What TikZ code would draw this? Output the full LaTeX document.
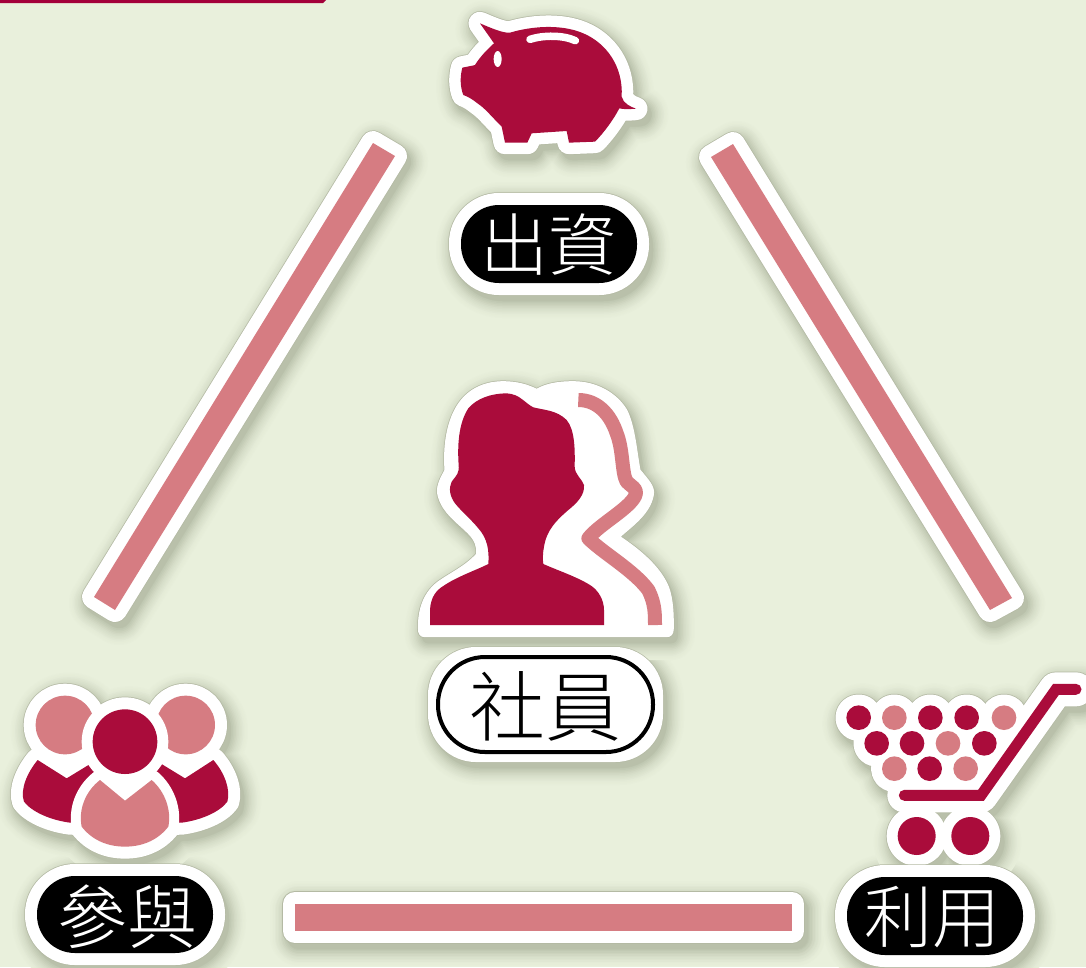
\documentclass[tikz,border=0pt]{standalone}
\usepackage{fontspec}
\newfontfamily\cjk{Noto Sans CJK TC Light}
\definecolor{bg}{HTML}{E9F0DC}
\definecolor{deep}{HTML}{AA0C3B}
\definecolor{soft}{HTML}{D67C82}
\definecolor{topred}{HTML}{A3003A}
\definecolor{shade}{HTML}{3C4628}
\definecolor{edge}{HTML}{B4BAA4}
\newcommand\stickershadow[1]{%
  \foreach \wd/\mx in {34/1,31/2,28/3,25/5,22/7,19/9,16/11,13/14,10/17,7/20,4/23,1/26,0/28}{%
    \begin{scope}[shift={(4pt,-6pt)},color=shade!\mx!bg] #1{\wd pt} \end{scope}}}
\newcommand\stickerface[1]{%
  \begin{scope}[color=edge] #1{1.5pt} \end{scope}%
  \begin{scope}[color=white] #1{0pt} \end{scope}}
\newcommand\stickerlayers[1]{\stickershadow{#1}\stickerface{#1}}
\newcommand\pillbase[6]{\path[draw,fill,rounded corners=38pt,line width=#5+#6] (#1,#2) rectangle (#3,#4);}
\newcommand\barbase[2]{\path[draw,fill,line join=round,line width=24pt+#2] #1;}
\newcommand\pigshape{(180,70) .. controls (215,85) and (250,100) .. (270,98) .. controls (330,80) and (420,70) .. (490,100) .. controls (560,130) and (610,200) .. (605,290) .. controls (610,310) and (630,320) .. (648,326) .. controls (625,328) and (610,328) .. (598,325) .. controls (580,360) and (550,400) .. (525,425) -- (447,428) -- (440,393) -- (335,400) -- (322,428) -- (255,428) -- (245,380) .. controls (215,350) and (195,325) .. (175,312) .. controls (160,300) and (145,290) .. (130,285) .. controls (120,260) and (120,230) .. (127,203) .. controls (140,200) and (155,198) .. (165,195) .. controls (180,170) and (205,145) .. (222,130) .. controls (205,105) and (190,85) .. (180,70) -- cycle}
\newcommand\pigbase[1]{\path[draw,fill,line join=round,line width=23pt+#1] \pigshape;}
\newcommand\personbase[1]{\path[draw,fill,line join=round,line width=1pt+#1] (55,745) .. controls (55,680) and (75,635) .. (115,605) .. controls (150,580) and (195,560) .. (230,522) .. controls (232,500) and (225,480) .. (205,460) .. controls (170,425) and (130,400) .. (115,350) .. controls (105,320) and (125,290) .. (135,270) .. controls (130,200) and (140,130) .. (170,80) .. controls (200,30) and (250,5) .. (310,5) .. controls (350,5) and (385,15) .. (410,28) .. controls (440,10) and (480,5) .. (520,5) .. controls (590,5) and (650,40) .. (680,90) .. controls (705,140) and (710,220) .. (720,270) .. controls (745,300) and (765,320) .. (760,345) .. controls (750,400) and (700,435) .. (660,470) .. controls (720,510) and (780,560) .. (805,620) .. controls (820,660) and (820,710) .. (820,745) .. controls (820,762) and (812,770) .. (800,770) -- (75,770) .. controls (62,770) and (55,762) .. (55,745) -- cycle;}
\newcommand\leftbody{(113,270) -- (200,325) -- (290,270) -- (290,460) -- (210,458) .. controls (150,450) and (95,425) .. (72,395) .. controls (60,360) and (80,310) .. (113,270) -- cycle}
\newcommand\rightbody{(640,270) -- (555,325) -- (465,270) -- (465,460) -- (545,458) .. controls (605,450) and (660,425) .. (682,395) .. controls (692,360) and (675,310) .. (640,270) -- cycle}
\newcommand\frontbody{(300,330) -- (375,392) -- (455,330) .. controls (495,365) and (515,420) .. (505,470) .. controls (470,515) and (420,530) .. (375,530) .. controls (330,530) and (280,515) .. (245,470) .. controls (235,420) and (255,365) .. (300,330) -- cycle}
\newcommand\groupbase[1]{%
  \tikzset{grp/.style={draw,fill,line join=round,line width=24pt+#1}}%
  \path[grp] (195,165) circle (88);
  \path[grp] (557,165) circle (88);
  \path[grp] (375,215) circle (97);
  \path[grp] \leftbody;
  \path[grp] \rightbody;
  \path[grp] \frontbody;}
\newcommand\ballsbasic[2]{\foreach \cx/\cy/\cc in {98/173/deep,205/173/soft,313/173/deep,422/173/deep,534/173/soft,152/250/deep,258/250/deep,366/250/soft,475/250/deep,205/326/soft,311/326/deep,419/326/soft}{#1}}
\newcommand\cartbase[1]{%
  \tikzset{crt/.style={draw,fill,line join=round,line width=22pt+#1}}%
  \ballsbasic{\path[crt] (\cx,\cy) circle (37);}{}%
  \path[fill,line width=0pt] (98,173) -- (534,173) -- (470,400) -- (235,400) -- cycle;
  \path[draw,line join=round,line cap=round,line width=34pt+#1] (235,406) -- (465,406) -- (690,88) -- (750,88);
  \path[crt] (272,528) circle (57);
  \path[crt] (433,528) circle (57);}
\tikzset{
  zoomframe/.style={x=.33333pt,y=-.33333pt},
  pilllabel/.style={font=\cjk\fontsize{68}{68}\selectfont,text=white,inner sep=0pt},
}
\begin{document}
\begin{tikzpicture}[x=1pt,y=-1pt]
\useasboundingbox (0,0) rectangle (1086,967);
\fill[bg] (0,0) rectangle (1086,967);
\fill[topred] (0,0) -- (326,0) -- (323,3) -- (0,3) -- cycle;
% bars
\stickerlayers{\barbase{(373,143) -- (395,156) -- (115,610) -- (94,597) -- cycle}}
\fill[soft] (373,143) -- (395,156) -- (115,610) -- (94,597) -- cycle;
\stickerlayers{\barbase{(711,157) -- (733,144) -- (1012,598) -- (990,610) -- cycle}}
\fill[soft] (711,157) -- (733,144) -- (1012,598) -- (990,610) -- cycle;
\stickerlayers{\barbase{(295,904) -- (792,904) -- (792,931) -- (295,931) -- cycle}}
\fill[soft] (295,904) -- (792,904) -- (792,931) -- (295,931) -- cycle;
% pill shadows go under the icons above them
\stickershadow{\pillbase{461}{205}{637}{283}{24pt}}
\stickershadow{\pillbase{438}{657}{653}{752}{20pt}}
\stickershadow{\pillbase{37}{876}{213}{953}{24pt}}
\stickershadow{\pillbase{847}{877}{1023}{955}{24pt}}
% pig
\begin{scope}[shift={(420,0)},zoomframe]
  \stickerlayers{\pigbase}
  \fill[deep] \pigshape;
  \draw[white,line width=7.5pt,line cap=round] (330,118) .. controls (370,105) and (430,105) .. (466,122);
  \fill[white] (233,177) ellipse (12 and 24);
\end{scope}
\stickerface{\pillbase{461}{205}{637}{283}{24pt}}
\fill[black,rounded corners=38pt] (461,205) rectangle (637,283);
\node[pilllabel] (chuzi) at (548,245) {出資};
% person
\begin{scope}[shift={(400,380)},zoomframe]
  \stickerlayers{\personbase}
  \draw[soft,line width=14pt,line join=round] (535,60) .. controls (590,60) and (630,100) .. (650,160) .. controls (670,210) and (665,280) .. (680,305) .. controls (695,320) and (710,325) .. (708,340) .. controls (700,380) and (600,430) .. (565,475) .. controls (610,520) and (700,570) .. (745,630) .. controls (765,670) and (765,700) .. (765,735);
  \fill[deep] (90,735) -- (90,690) .. controls (92,650) and (110,630) .. (130,618) .. controls (170,590) and (230,570) .. (265,552) .. controls (268,510) and (262,475) .. (235,445) .. controls (215,420) and (185,395) .. (165,370) .. controls (150,350) and (145,325) .. (155,305) .. controls (170,285) and (178,280) .. (176,255) .. controls (172,200) and (175,130) .. (205,85) .. controls (230,55) and (275,40) .. (320,40) .. controls (360,42) and (375,70) .. (400,82) .. controls (430,90) and (470,90) .. (500,120) .. controls (525,150) and (525,210) .. (524,260) .. controls (525,285) and (545,295) .. (552,315) .. controls (555,345) and (530,370) .. (505,390) .. controls (470,420) and (440,450) .. (432,500) .. controls (428,520) and (428,540) .. (430,552) .. controls (470,570) and (530,590) .. (570,615) .. controls (595,630) and (612,660) .. (612,690) -- (612,735) -- cycle;
\end{scope}
\stickerface{\pillbase{438}{657}{653}{752}{20pt}}
\draw[black,line width=4pt,rounded corners=47pt] (438,657) rectangle (653,752);
\node[pilllabel,text=black,font=\cjk\fontsize{76}{76}\selectfont] (sheyuan) at (545,706) {社員};
% group
\begin{scope}[shift={(0,670)},zoomframe]
  \stickerlayers{\groupbase}
  \fill[soft] (195,165) circle (88);
  \fill[soft] (557,165) circle (88);
  \fill[deep] \leftbody;
  \fill[deep] \rightbody;
  \fill[white] (375,215) circle (130);
  \fill[deep] (375,215) circle (97);
  \draw[white,line width=20pt,line join=round] \frontbody;
  \fill[soft] \frontbody;
\end{scope}
\stickerface{\pillbase{37}{876}{213}{953}{24pt}}
\fill[black,rounded corners=38pt] (37,876) rectangle (213,953);
\node[pilllabel,font=\cjk\fontsize{70}{70}\selectfont] (canyu) at (127,917) {參與};
% cart
\begin{scope}[shift={(826,660)},zoomframe]
  \stickerlayers{\cartbase}
  \ballsbasic{\fill[\cc] (\cx,\cy) circle (37);}{}
  \draw[deep,line width=11pt,line join=miter,line cap=round] (235,406) -- (465,406) -- (690,88) -- (750,88);
  \fill[deep] (272,528) circle (57);
  \fill[deep] (433,528) circle (57);
\end{scope}
\stickerface{\pillbase{847}{877}{1023}{955}{24pt}}
\fill[black,rounded corners=38pt] (847,877) rectangle (1023,955);
\node[pilllabel] (liyong) at (932,917) {利用};
\end{tikzpicture}
\end{document}
